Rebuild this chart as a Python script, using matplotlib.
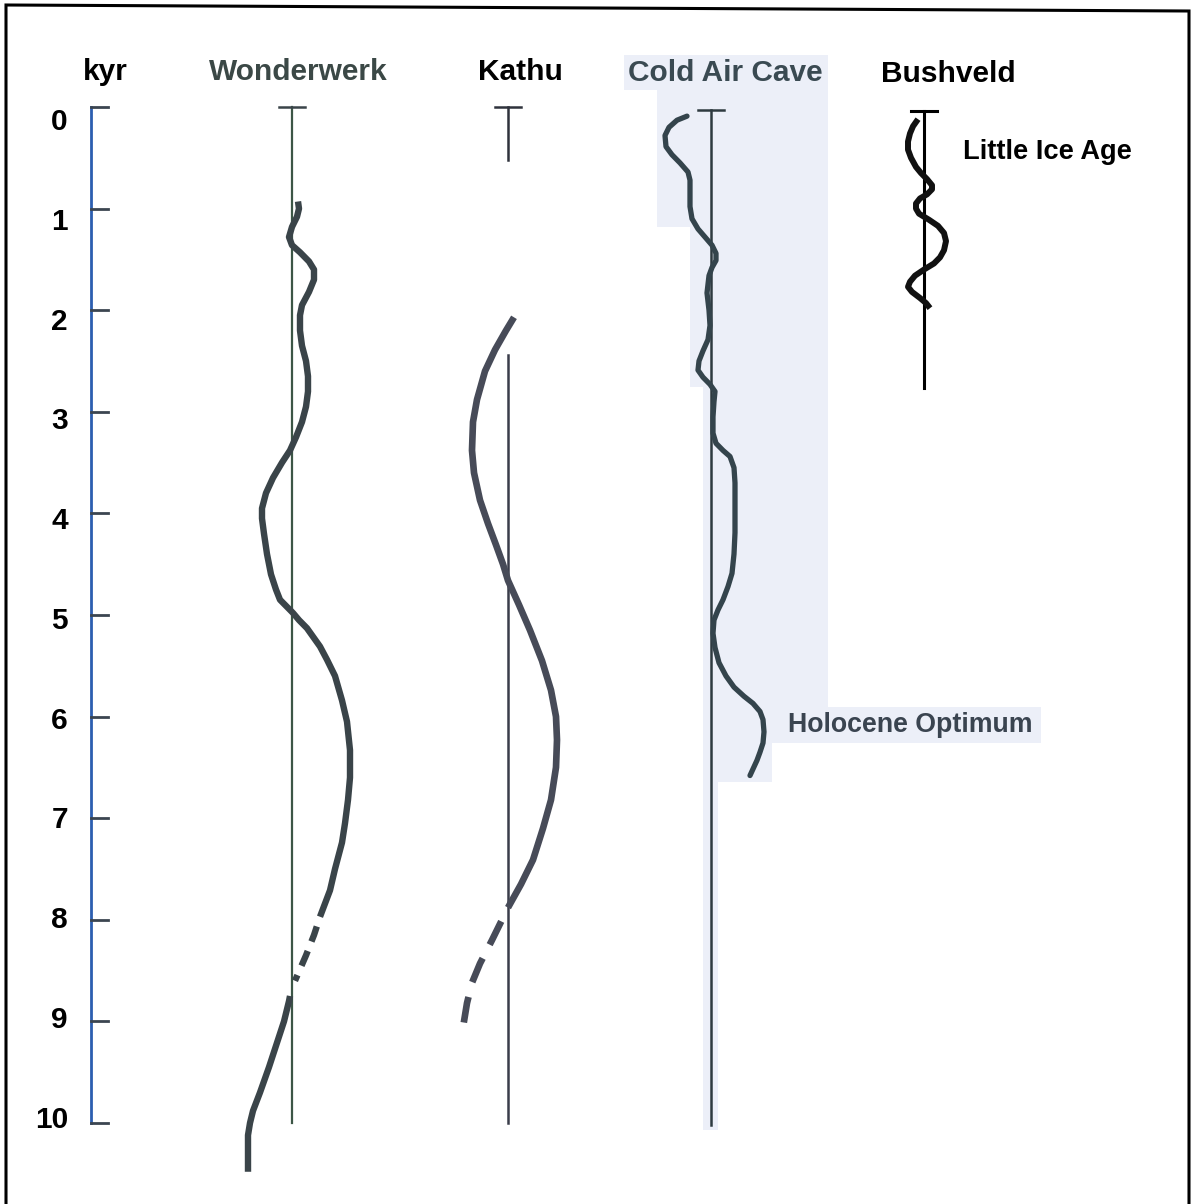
import matplotlib
matplotlib.use("Agg")
import matplotlib.pyplot as plt
from matplotlib.patches import Polygon

# page geometry: x in pixels, y in kyr (0 kyr at pixel row 107, 101.6 px per kyr)
W, H = 1194, 1204
Y0, PX = 107, 101.6

def ky(py):
    return (py - Y0) / PX

# ---- data (kyr, horizontal offset from the site line in px) ----
ticks = list(range(0, 11))
tick_labels = [str(t) for t in ticks]

sites = ["Wonderwerk", "Kathu", "Cold Air Cave", "Bushveld"]

ww_kyr = [0.93, 1.0, 1.08, 1.18, 1.28, 1.36, 1.43, 1.52, 1.60, 1.70, 1.82, 1.95, 2.05, 2.2, 2.35,
          2.5, 2.65, 2.8, 2.95, 3.1, 3.25, 3.38, 3.5, 3.65, 3.8, 3.95, 4.05, 4.2, 4.4, 4.6, 4.75,
          4.85, 4.92, 4.98, 5.05, 5.13, 5.31, 5.44, 5.6, 5.84, 6.05, 6.33, 6.6, 6.82, 7.05, 7.24,
          7.5, 7.71, 7.97]
ww_off = [6, 7, 5, 0, -3, 0, 8, 17, 22, 22, 17, 10, 8, 8, 10,
          14, 16, 16, 14, 10, 4, -2, -10, -19, -26, -30, -30, -28, -25, -21, -16,
          -12, -5, 1, 7, 15, 28, 35, 43, 50, 55, 58, 58, 56, 53, 50,
          43, 38, 28]
ww_gap_kyr = [7.97, 8.15, 8.35, 8.6]
ww_gap_off = [28, 22, 14, 3]
ww_low_kyr = [8.75, 8.8, 9.0, 9.21, 9.45, 9.7, 9.88, 10.0, 10.12, 10.24, 10.48]
ww_low_off = [-2, -3, -8, -15, -23, -32, -39, -42, -44, -44, -44]

ka_kyr = [2.07, 2.2, 2.39, 2.6, 2.88, 3.1, 3.38, 3.6, 3.87, 4.1, 4.31, 4.5, 4.66, 4.9, 5.15,
          5.45, 5.74, 6.0, 6.23, 6.5, 6.82, 7.1, 7.41, 7.65, 7.88]
ka_off = [6, -2, -13, -23, -31, -35, -36, -34, -28, -20, -12, -5, 0, 11, 22,
          34, 43, 48, 49, 48, 43, 35, 25, 13, 0]
ka_gap_kyr = [7.88, 8.2, 8.43, 8.62, 8.82, 9.06]
ka_gap_off = [0, -16, -28, -36, -41, -45]

cac_kyr = [0.09, 0.13, 0.2, 0.28, 0.39, 0.47, 0.55, 0.64, 0.72, 0.85, 0.98, 1.1, 1.2, 1.28,
           1.36, 1.44, 1.51, 1.58, 1.66, 1.83, 2.0, 2.15, 2.29, 2.4, 2.5, 2.59, 2.66, 2.73,
           2.8, 2.9, 3.05, 3.21, 3.31, 3.38, 3.44, 3.55, 3.7, 3.9, 4.19, 4.4, 4.59, 4.72,
           4.85, 4.95, 5.05, 5.18, 5.32, 5.47, 5.6, 5.71, 5.8, 5.87, 5.95, 6.03, 6.15,
           6.26, 6.35, 6.43, 6.58]
cac_off = [-24, -34, -42, -46, -45, -39, -31, -23, -21, -21, -21, -19, -13, -6,
           1, 5, 5, 1, -2, -4, -2, -1, -3, -8, -12, -13, -8, -1,
           4, 3, 2, 2, 5, 12, 19, 23, 24, 24, 24, 23, 21, 17,
           12, 7, 3, 2, 4, 8, 15, 23, 33, 42, 49, 52, 53,
           52, 49, 46, 39]

bv_kyr = [0.12, 0.19, 0.26, 0.34, 0.42, 0.5, 0.59, 0.65, 0.71, 0.77, 0.81, 0.86, 0.9, 0.95,
          1.0, 1.05, 1.11, 1.17, 1.24, 1.32, 1.41, 1.48, 1.54, 1.6, 1.66, 1.72, 1.77, 1.82,
          1.88, 1.93, 1.98]
bv_off = [-6, -11, -14, -16, -16, -13, -8, -3, 3, 8, 8, 3, -4, -8,
          -8, -5, 5, 14, 20, 22, 20, 16, 10, 0, -9, -14, -16, -12,
          -4, 2, 6]

# ---- layout ----
AXIS_X = 91
SITE_X = {"Wonderwerk": 292, "Kathu": 508, "Cold Air Cave": 711, "Bushveld": 924}
CURVE = "#3a4449"
FONT = "Liberation Sans"
FS = 21.5
SMOOTH = dict(solid_capstyle="butt", solid_joinstyle="round", zorder=4)

fig = plt.figure(figsize=(W / 100, H / 100), dpi=100)
ax = fig.add_axes([0, 0, 1, 1])
ax.set_xlim(0, W)
ax.set_ylim(ky(H), ky(0))
ax.axis("off")

# Cold Air Cave highlight
shade_px = [(624, 55), (828, 55), (828, 707), (1041, 707), (1041, 743), (772, 743),
            (772, 782), (718, 782), (718, 1130), (703, 1130), (703, 387), (690, 387),
            (690, 227), (657, 227), (657, 90), (624, 90)]
ax.add_patch(Polygon([(x, ky(y)) for x, y in shade_px], closed=True,
                     facecolor="#eceff8", edgecolor="none", zorder=0))

# page frame
ax.plot([6, 6, 1189, 1189], [ky(H), ky(5), ky(11), ky(H)], color="black", lw=2.2,
        solid_joinstyle="miter", zorder=1)

# kyr axis
ax.plot([AXIS_X, AXIS_X], [ticks[0], ticks[-1]], color="#2c5eb0", lw=2.0, zorder=2)
for t, lab in zip(ticks, tick_labels):
    ax.plot([AXIS_X, AXIS_X + 17], [t, t], color="#3b4550", lw=2.0, zorder=3)
    ax.text(68, t * 0.982 + 0.148, lab, ha="right", va="center", fontsize=FS,
            fontweight="bold", family=FONT, color="black")
ax.text(105, ky(72), "kyr", ha="center", va="center", fontsize=FS, fontweight="bold",
        family=FONT, color="black")

def cap(x, y, half=13, color="#333", lw=1.8):
    ax.plot([x - half, x + half], [y, y], color=color, lw=lw, zorder=3)

# Wonderwerk
xw = SITE_X["Wonderwerk"]
ax.plot([xw, xw], [0, 10], color="#3c5646", lw=1.6, zorder=3)
cap(xw, 0, color="#3a4449")
ax.plot([xw + o for o in ww_off], ww_kyr, color=CURVE, lw=4.6, **SMOOTH)
ax.plot([xw + o for o in ww_gap_off], ww_gap_kyr, color=CURVE, lw=4.6,
        linestyle=(2.5, (2.5, 1.6)), dash_capstyle="butt", zorder=4)
ax.plot([xw + o for o in ww_low_off], ww_low_kyr, color=CURVE, lw=4.6, **SMOOTH)
ax.text(298, ky(72), "Wonderwerk", ha="center", va="center", fontsize=FS,
        fontweight="bold", family=FONT, color="#3b4846")

# Kathu
xk = SITE_X["Kathu"]
ax.plot([xk, xk], [0, ky(160)], color="#2f323c", lw=1.8, zorder=3)
cap(xk, 0, color="#2f323c")
ax.plot([xk, xk], [ky(355), 10], color="#3a3d4a", lw=1.8, zorder=3)
ax.plot([xk + o for o in ka_off], ka_kyr, color="#474b58", lw=4.8, **SMOOTH)
ax.plot([xk + o for o in ka_gap_off], ka_gap_kyr, color="#474b58", lw=4.8,
        linestyle=(3.9, (3.9, 2.3)), dash_capstyle="butt", zorder=4)
ax.text(520, ky(72), "Kathu", ha="center", va="center", fontsize=FS,
        fontweight="bold", family=FONT, color="black")

# Cold Air Cave
xc = SITE_X["Cold Air Cave"]
ax.plot([xc, xc], [ky(110), ky(1125)], color="#2e3a40", lw=1.8, zorder=3)
cap(xc, ky(110), color="#2e3a40")
ax.plot([xc + o for o in cac_off], cac_kyr, color="#34444c", lw=3.8,
        solid_capstyle="round", solid_joinstyle="round", zorder=4)
ax.text(725, ky(73), "Cold Air Cave", ha="center", va="center", fontsize=FS,
        fontweight="bold", family=FONT, color="#3a4a52")
ax.text(788, ky(725), "Holocene Optimum", ha="left", va="center", fontsize=19.3,
        fontweight="bold", family=FONT, color="#3a4450")

# Bushveld
xb = SITE_X["Bushveld"]
ax.plot([xb, xb], [ky(111), ky(388)], color="black", lw=2.2, zorder=3)
cap(xb, ky(111), color="black", lw=2.2)
ax.plot([xb + o for o in bv_off], bv_kyr, color="#111111", lw=4.3, **SMOOTH)
ax.text(948, ky(74), "Bushveld", ha="center", va="center", fontsize=FS,
        fontweight="bold", family=FONT, color="black")
ax.text(963, ky(152), "Little Ice Age", ha="left", va="center", fontsize=19.6,
        fontweight="bold", family=FONT, color="black")

fig.savefig("out.png", dpi=100)
